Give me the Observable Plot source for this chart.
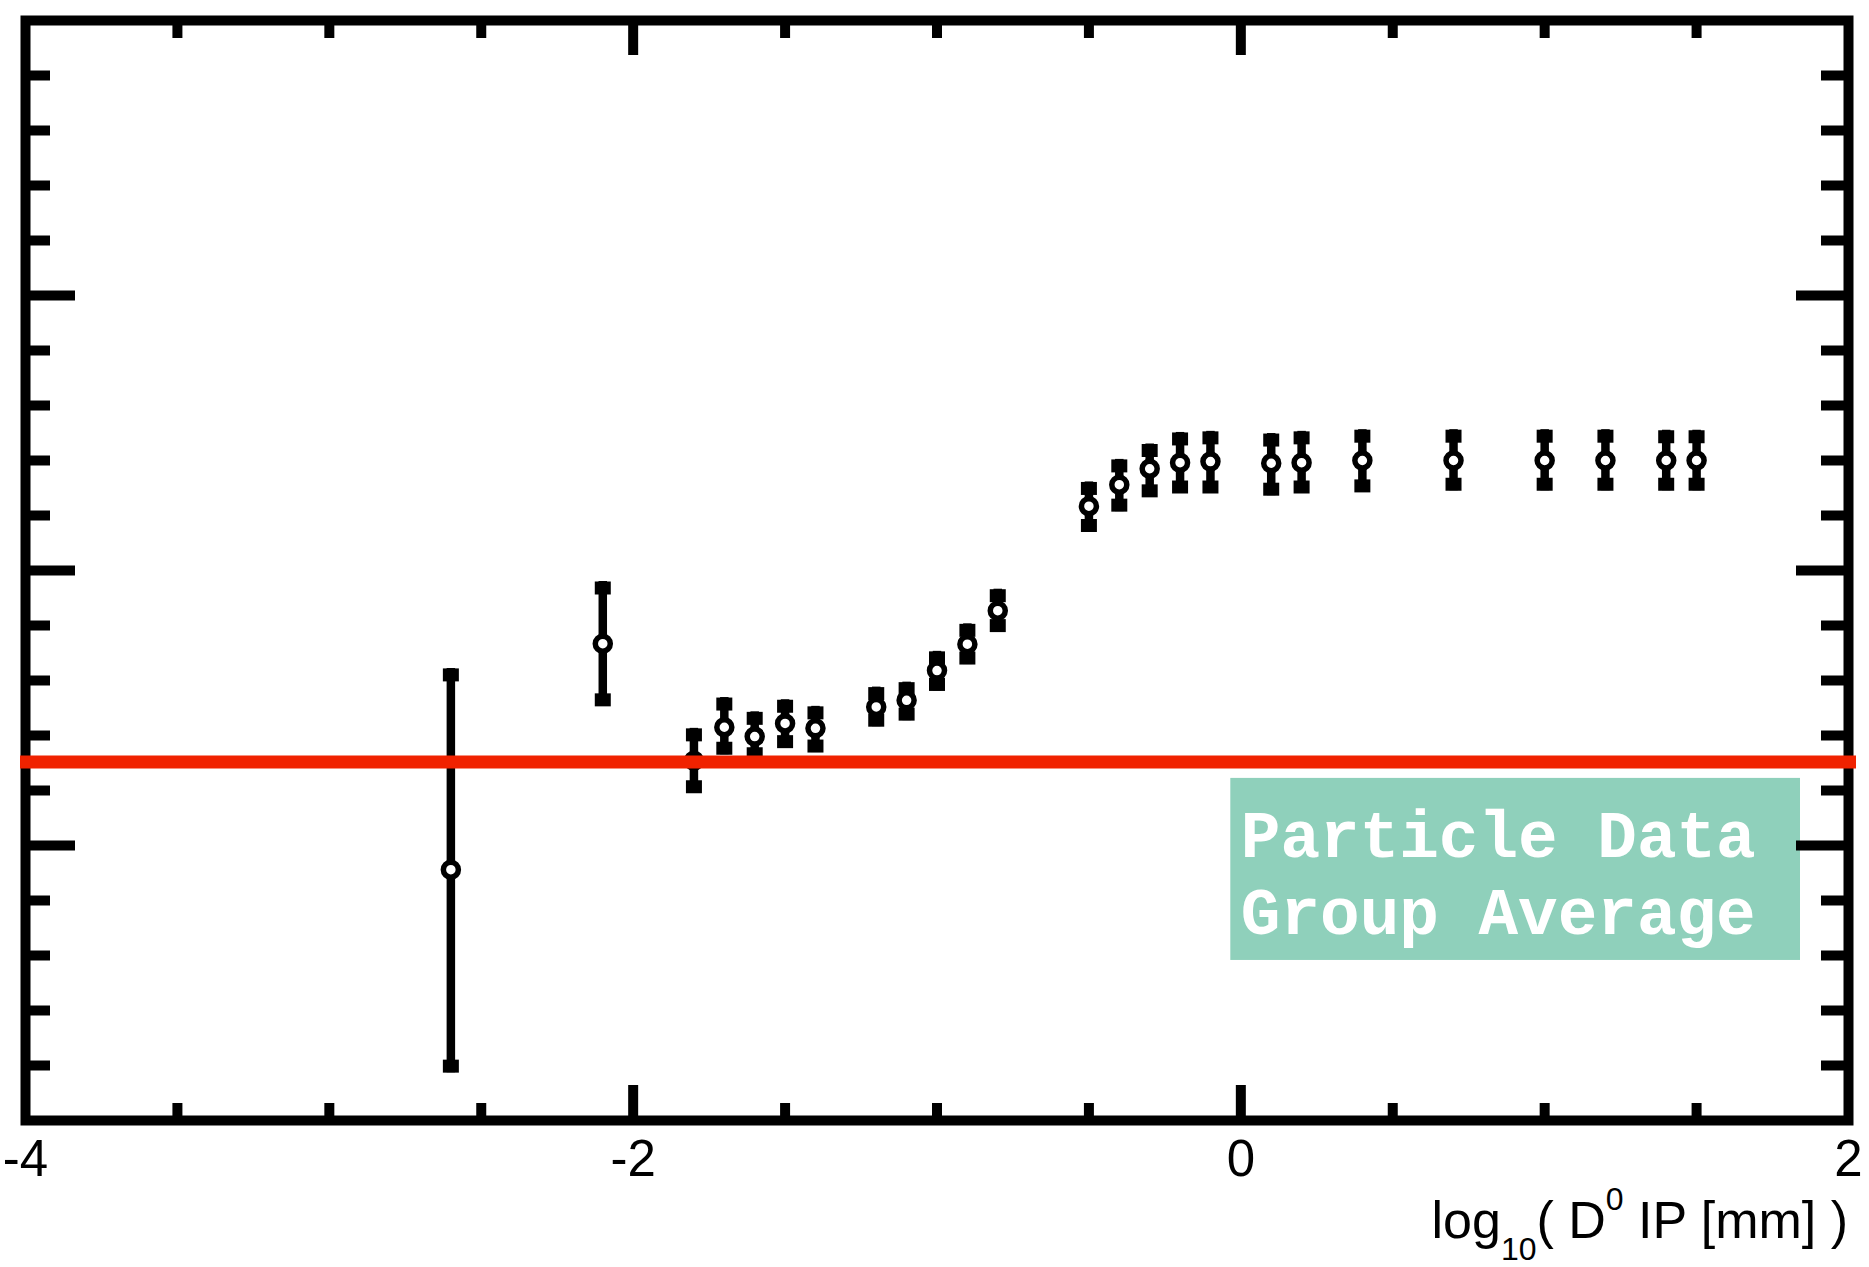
<!DOCTYPE html>
<html>
<head>
<meta charset="utf-8">
<script src="https://cdn.jsdelivr.net/npm/d3@7"></script>
<script src="https://cdn.jsdelivr.net/npm/@observablehq/plot@0.6"></script>
<style>
  html, body { margin: 0; padding: 0; background: #fff; }
  #chart { width: 1869px; height: 1267px; }
</style>
</head>
<body>
<div id="chart"></div>
<script>
// ---- data ----
const xVals = [-2.6, -2.1, -1.8, -1.7, -1.6, -1.5, -1.4, -1.2, -1.1, -1.0, -0.9, -0.8, -0.5, -0.4, -0.3, -0.2, -0.1, 0.1, 0.2, 0.4, 0.7, 1.0, 1.2, 1.4, 1.5];
const yVals = [4.56, 8.67, 6.54, 7.15, 6.98, 7.22, 7.13, 7.52, 7.64, 8.18, 8.66, 9.27, 11.17, 11.56, 11.85, 11.96, 11.98, 11.95, 11.96, 12.0, 12.0, 12.0, 12.0, 12.0, 12.0];
const yHi   = [8.22, 9.80, 7.13, 7.69, 7.43, 7.65, 7.53, 7.88, 7.97, 8.53, 9.03, 9.66, 11.61, 12.02, 12.30, 12.51, 12.53, 12.49, 12.53, 12.56, 12.56, 12.56, 12.56, 12.55, 12.55];
const yLo   = [0.87, 7.53, 5.95, 6.65, 6.55, 6.77, 6.69, 7.16, 7.27, 7.81, 8.29, 8.88, 10.70, 11.07, 11.33, 11.40, 11.40, 11.36, 11.40, 11.42, 11.45, 11.45, 11.45, 11.45, 11.45];
const pdgAverage = [6.52];
const pdgLabel = ["Particle Data\nGroup Average"];
const xTickLabels = [-4, -2, 0, 2];
const xMajorInner = [-2, 0];
const xMinor = [-3.5, -3, -2.5, -1.5, -1, -0.5, 0.5, 1, 1.5];
const yMajor = [5, 10, 15];
const yMinor = [1, 2, 3, 4, 6, 7, 8, 9, 11, 12, 13, 14, 16, 17, 18, 19];

const points = xVals.map((x, i) => ({x, y: yVals[i], hi: yHi[i], lo: yLo[i]}));

// ---- layout ----
const W = 1869, H = 1267, mL = 25, mR = 21, mT = 20, mB = 147;
const plotW = W - mL - mR, plotH = H - mT - mB;

const capTop = {draw(ctx) { ctx.rect(-8, 0, 16, 13); }};
const capBottom = {draw(ctx) { ctx.rect(-8, -13, 16, 13); }};

const chart = Plot.plot({
  width: W,
  height: H,
  marginLeft: mL, marginRight: mR, marginTop: mT, marginBottom: mB,
  style: {background: "white", fontFamily: "'Liberation Sans', Arial, Helvetica, sans-serif", overflow: "visible"},
  x: {domain: [-4, 2], axis: null},
  y: {domain: [0, 20], axis: null},
  marks: [
    // legend box
    Plot.rect([0], {x1: -0.033, x2: 1.842, y1: 2.91, y2: 6.22, fill: "#8fd0bb"}),
    Plot.text(pdgLabel, {x: 0, y: 4.545, text: d => d, textAnchor: "start", lineHeight: 1.18,
      fontSize: 66, fontWeight: "bold", fontFamily: "'Courier New', 'Liberation Mono', monospace", fill: "white"}),
    // ticks (inward)
    Plot.ruleX(xMinor, {x: d => d, insetTop: plotH - 17, stroke: "black", strokeWidth: 10}),
    Plot.ruleX(xMajorInner, {x: d => d, insetTop: plotH - 35, stroke: "black", strokeWidth: 10}),
    Plot.ruleX(xMinor, {x: d => d, insetBottom: plotH - 18, stroke: "black", strokeWidth: 10}),
    Plot.ruleX(xMajorInner, {x: d => d, insetBottom: plotH - 35, stroke: "black", strokeWidth: 10}),
    Plot.ruleY(yMinor, {y: d => d, insetRight: plotW - 25, stroke: "black", strokeWidth: 10}),
    Plot.ruleY(yMajor, {y: d => d, insetRight: plotW - 50, stroke: "black", strokeWidth: 10}),
    Plot.ruleY(yMinor, {y: d => d, insetLeft: plotW - 27, stroke: "black", strokeWidth: 10}),
    Plot.ruleY(yMajor, {y: d => d, insetLeft: plotW - 52, stroke: "black", strokeWidth: 10}),
    Plot.frame({stroke: "black", strokeWidth: 10}),
    // tick labels
    Plot.text(xTickLabels, {x: d => d, frameAnchor: "bottom", dy: 55, text: d => String(d), fontSize: 51, fill: "black"}),
    // error bars
    Plot.ruleX(points, {x: "x", y1: "lo", y2: "hi", stroke: "black", strokeWidth: 8.5}),
    Plot.dot(points, {x: "x", y: "hi", symbol: capTop, fill: "black", stroke: "none"}),
    Plot.dot(points, {x: "x", y: "lo", symbol: capBottom, fill: "black", stroke: "none"}),
    Plot.dot(points, {x: "x", y: "y", r: 7.5, stroke: "black", strokeWidth: 5.5, fill: "white"}),
    // PDG average line
    Plot.ruleY(pdgAverage, {y: d => d, stroke: "#f02200", strokeWidth: 13, insetLeft: -5, insetRight: -8})
  ]
});

// axis title with sub/superscripts
const svg = d3.select(chart);
const t = svg.append("text")
  .attr("x", W - mR)
  .attr("y", 1238)
  .attr("text-anchor", "end")
  .attr("font-size", 52)
  .attr("fill", "black")
  .attr("font-family", "'Liberation Sans', Arial, Helvetica, sans-serif");
t.append("tspan").text("log");
t.append("tspan").attr("font-size", 32).attr("dy", 22).text("10");
t.append("tspan").attr("dy", -22).text("( D");
t.append("tspan").attr("font-size", 32).attr("dy", -28).text("0");
t.append("tspan").attr("dy", 28).text("\u00a0IP [mm] )");

document.getElementById("chart").appendChild(chart);
</script>
</body>
</html>
